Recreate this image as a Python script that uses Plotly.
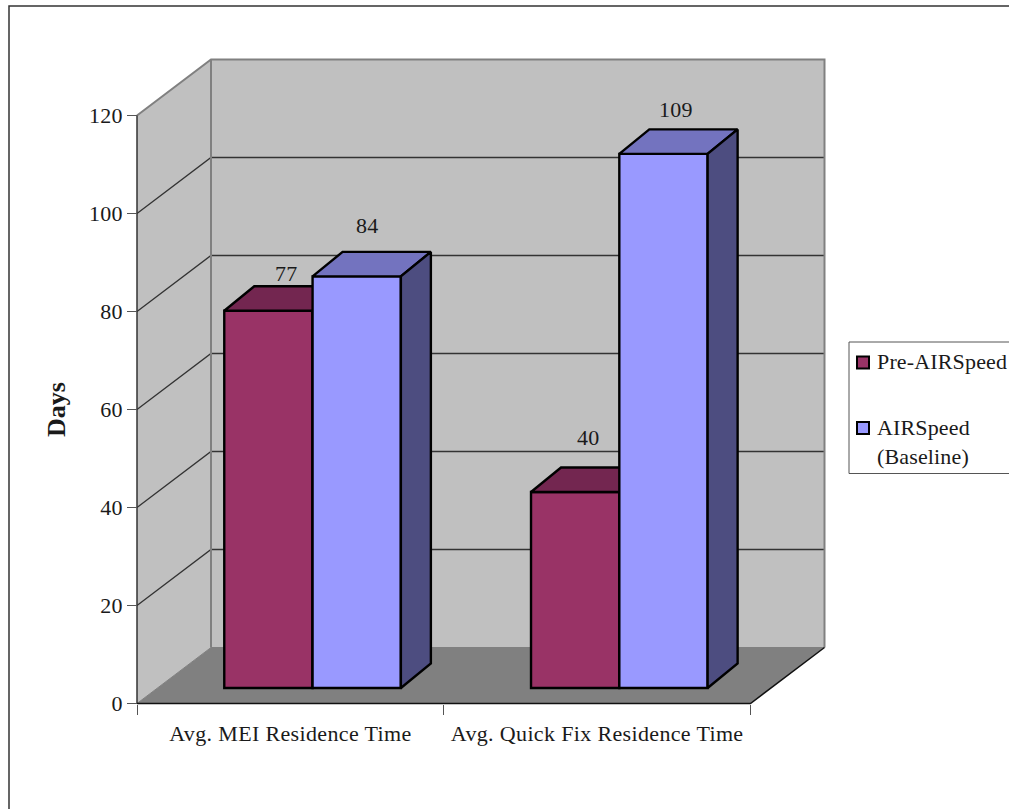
import plotly.graph_objects as go

# ---- values ----
CATEGORIES = ["Avg. MEI Residence Time", "Avg. Quick Fix Residence Time"]
PRE_AIRSPEED = [77, 40]
AIRSPEED_BASELINE = [84, 109]
Y_TICKS = [0, 20, 40, 60, 80, 100, 120]
Y_TITLE = "Days"
SERIES_NAMES = ["Pre-AIRSpeed", "AIRSpeed"]
SERIES_NAME_2_LINE2 = "(Baseline)"

# ---- geometry and style ----
W, H = 1009, 809
X0_PX, X_UNIT = 137.0, 306.75
Y0_PX, Y_UNIT = 703.5, 4.9
DEPTH_X, DEPTH_Y = 74 / X_UNIT, 56 / Y_UNIT
YMAX = 120
NCAT = 2
BAR_W = 88.3 / X_UNIT
BAR_LEFT = 0.2845
BAR_BASE = 15.5 / Y_UNIT
BAR_DX, BAR_DY = 30 / X_UNIT, 24.5 / Y_UNIT
FONT = "Liberation Serif"
FS = 22
LS = 0.2
TXT = "#1a1a1a"
GRID = "#333333"
EDGE = "#808080"
WALL = "#c0c0c0"
FLOOR = "#808080"
OUTLINE = 2.4
MAROON, MAROON_TOP, MAROON_SIDE = "#993366", "#732650", "#4d1a33"
BLUE, BLUE_TOP, BLUE_SIDE = "#9999ff", "#7373bf", "#4d4d80"

xrange_ = [-X0_PX / X_UNIT, (W - X0_PX) / X_UNIT]
yrange_ = [(Y0_PX - H) / Y_UNIT, Y0_PX / Y_UNIT]


def spaced(t, ls=LS):
    return f"<span style='letter-spacing:{ls}px'>{t}</span>"


def px(x):
    return x / W


def py(y):
    return 1 - y / H


fig = go.Figure()


def poly(xs, ys, fill, line=None, lw=0, axes=("x", "y")):
    fig.add_trace(go.Scatter(
        x=list(xs) + [xs[0]], y=list(ys) + [ys[0]], mode="lines", fill="toself",
        fillcolor=fill, line=dict(color=line or fill, width=lw if line else 0),
        hoverinfo="skip", showlegend=False, xaxis=axes[0], yaxis=axes[1]))


def seg(xs, ys, color, lw):
    fig.add_trace(go.Scatter(
        x=xs, y=ys, mode="lines", line=dict(color=color, width=lw),
        hoverinfo="skip", showlegend=False))


# walls and floor
poly([0, DEPTH_X, DEPTH_X, 0], [0, DEPTH_Y, YMAX + DEPTH_Y, YMAX], WALL)
poly([DEPTH_X, NCAT + DEPTH_X, NCAT + DEPTH_X, DEPTH_X],
     [DEPTH_Y, DEPTH_Y, YMAX + DEPTH_Y, YMAX + DEPTH_Y], WALL)
poly([0, NCAT, NCAT + DEPTH_X, DEPTH_X], [0, 0, DEPTH_Y, DEPTH_Y], FLOOR)

# gridlines
for t in Y_TICKS[1:-1]:
    seg([0, DEPTH_X, NCAT + DEPTH_X], [t, t + DEPTH_Y, t + DEPTH_Y], GRID, 1.3)

# wall edges
seg([0, DEPTH_X, NCAT + DEPTH_X, NCAT + DEPTH_X],
    [YMAX, YMAX + DEPTH_Y, YMAX + DEPTH_Y, DEPTH_Y], EDGE, 2)
seg([DEPTH_X, DEPTH_X], [DEPTH_Y, YMAX + DEPTH_Y], EDGE, 2)
seg([0, DEPTH_X, NCAT + DEPTH_X], [0, DEPTH_Y, DEPTH_Y], EDGE, 1)
seg([0, 0], [0, YMAX], GRID, 1.5)
seg([0, NCAT, NCAT + DEPTH_X], [0, 0, DEPTH_Y], "#111111", 1.5)


def bars(values, name, slot, front, top, side, xa, ya):
    lefts = [i + BAR_LEFT + slot * BAR_W for i in range(len(values))]
    fig.add_trace(go.Bar(
        x=[l + BAR_W / 2 for l in lefts], y=values, base=[BAR_BASE] * len(values),
        width=BAR_W, name=name, marker=dict(color=front, line=dict(color="black", width=OUTLINE)),
        showlegend=False, hoverinfo="skip", xaxis=xa, yaxis=ya))
    for l, v in zip(lefts, values):
        r = l + BAR_W
        ytop = v + BAR_BASE
        poly([l, r, r + BAR_DX, l + BAR_DX], [ytop, ytop, ytop + BAR_DY, ytop + BAR_DY],
             top, "black", OUTLINE, (xa, ya))
        poly([r, r + BAR_DX, r + BAR_DX, r], [BAR_BASE, BAR_BASE + BAR_DY, ytop + BAR_DY, ytop],
             side, "black", OUTLINE, (xa, ya))


bars(PRE_AIRSPEED, SERIES_NAMES[0], 0, MAROON, MAROON_TOP, MAROON_SIDE, "x2", "y2")
bars(AIRSPEED_BASELINE, SERIES_NAMES[1] + " " + SERIES_NAME_2_LINE2, 1, BLUE, BLUE_TOP, BLUE_SIDE, "x3", "y3")

# data labels
ann = []
label_shift = {(0, 0): (18, 37), (0, 1): (13, 55), (1, 0): (10, 51), (1, 1): (13, 44)}
for s, vals in enumerate([PRE_AIRSPEED, AIRSPEED_BASELINE]):
    for i, v in enumerate(vals):
        dx, dy = label_shift[(s, i)]
        ann.append(dict(x=i + BAR_LEFT + (s + 0.5) * BAR_W, y=v + BAR_BASE, xref="x", yref="y",
                        text=spaced(v), showarrow=False, xshift=dx, yshift=dy,
                        font=dict(family=FONT, size=FS, color=TXT)))

# axis title
ann.append(dict(x=px(56), y=py(410), xref="paper", yref="paper",
                text=f"<b>{Y_TITLE}</b>",
                xanchor="center", yanchor="middle",
                textangle=-90, showarrow=False, font=dict(family=FONT, size=26, color=TXT)))

# legend, built to run off the page edge as in the reference
for txt, yy in [(SERIES_NAMES[0], 361), (SERIES_NAMES[1], 427), (SERIES_NAME_2_LINE2, 456)]:
    ann.append(dict(x=px(875), y=py(yy), xref="paper", yref="paper", text=spaced(txt, 0.15),
                    xanchor="left", showarrow=False, font=dict(family=FONT, size=FS, color=TXT)))

shapes = [
    dict(type="rect", xref="paper", yref="paper", x0=px(9), x1=1.02, y0=-0.02, y1=py(6),
         line=dict(color="#333333", width=1.5), layer="below"),
    dict(type="rect", xref="paper", yref="paper", x0=px(849), x1=1.02, y0=py(473.5), y1=py(342),
         line=dict(color="#555555", width=1), fillcolor="white", layer="below"),
]
for col, y0 in [(MAROON, 356.5), (BLUE, 422)]:
    shapes.append(dict(type="rect", xref="paper", yref="paper", x0=px(857), x1=px(869),
                       y0=py(y0 + 12), y1=py(y0), fillcolor=col,
                       line=dict(color="black", width=2)))

hidden = dict(range=xrange_, overlaying="x", visible=False)
hidden_y = dict(range=yrange_, overlaying="y", visible=False)
fig.update_layout(
    width=W, height=H, margin=dict(l=0, r=0, t=0, b=0, autoexpand=False),
    paper_bgcolor="white", plot_bgcolor="rgba(0,0,0,0)", showlegend=False,
    barmode="overlay", annotations=ann, shapes=shapes,
    xaxis=dict(range=xrange_, anchor="free", position=(H - Y0_PX) / H,
               tickmode="array", tickvals=[i + 0.5 for i in range(NCAT)],
               ticktext=[spaced(c, 0.35) for c in CATEGORIES], ticks="", ticklen=0,
               tickfont=dict(family=FONT, size=FS, color=TXT),
               minor=dict(tickmode="array", tickvals=list(range(NCAT + 1)), ticks="outside",
                          ticklen=10, tickcolor="#555555", tickwidth=1, showgrid=False),
               showgrid=False, zeroline=False, showline=False, ticklabelstandoff=14),
    yaxis=dict(range=yrange_, anchor="free", position=X0_PX / W,
               tickmode="array", tickvals=Y_TICKS, ticktext=[spaced(t) for t in Y_TICKS],
               ticks="outside", ticklen=10, tickcolor="#555555", tickwidth=1,
               tickfont=dict(family=FONT, size=FS, color=TXT),
               showgrid=False, zeroline=False, showline=False),
    xaxis2=hidden, yaxis2=hidden_y, xaxis3=hidden, yaxis3=hidden_y,
)

fig.write_html("out.html", config=dict(displayModeBar=False),
               post_script="document.body.style.margin='0';document.body.style.overflow='hidden';")
